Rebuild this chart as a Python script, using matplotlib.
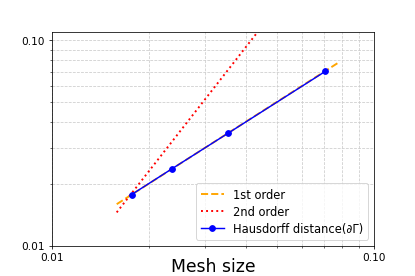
import matplotlib
matplotlib.use("Agg")
import matplotlib.pyplot as plt
from matplotlib.ticker import FormatStrFormatter, NullFormatter

# mesh sizes and Hausdorff distance of the boundary
mesh = [0.01768, 0.02357, 0.03536, 0.07071]
haus = [0.01770, 0.02360, 0.03530, 0.07040]

# reference slopes (end points)
o1_x = [0.0159, 0.0778]
o1_y = [0.0159, 0.0778]
o2_x = [0.0159, 0.0778]
o2_y = [0.0145, 0.3500]

fig, ax = plt.subplots(figsize=(6, 4), dpi=69.2)
ax.loglog(o1_x, o1_y, '--', color='orange', lw=2, label='1st order')
ax.loglog(o2_x, o2_y, ':', color='red', lw=2, label='2nd order')
ax.loglog(mesh, haus, 'b-o', lw=1.5, ms=6, label='Hausdorff distance(∂Γ)')

ax.set_xlim(0.01, 0.1)
ax.set_ylim(0.01, 0.109)
for a in (ax.xaxis, ax.yaxis):
    a.set_major_formatter(FormatStrFormatter('%.2f'))
    a.set_minor_formatter(NullFormatter())
ax.tick_params(labelsize=11)
ax.grid(True, which='both', ls='--', color='#cccccc', lw=0.8)
ax.set_xlabel('Mesh size', fontsize=18, labelpad=-5)
ax.legend(loc='lower right', fontsize=12, labelspacing=0.35)
plt.savefig("out.png", dpi=69.2)
